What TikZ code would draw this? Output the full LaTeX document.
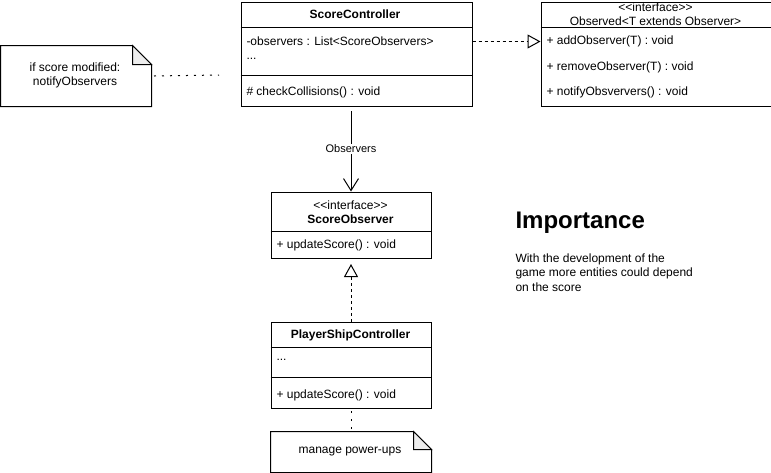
\documentclass[tikz,border=0pt]{standalone}
\usepackage{fontspec}
\setmainfont{Liberation Sans}
\usetikzlibrary{arrows.meta,calc}
\begin{document}
\begin{tikzpicture}[x=1pt,y=-1pt,line width=1pt,
  box/.style={draw,fill=white,inner sep=0pt,anchor=north west},
  ghost/.style={inner sep=0pt,anchor=north west},
  txt/.style={inner sep=0pt,font=\fontsize{12}{14}\selectfont},
  ltxt/.style={txt,anchor=west},
  btxt/.style={inner sep=0pt,font=\fontsize{12}{14}\selectfont\bfseries},
  lbl/.style={inner sep=1pt,fill=white,font=\fontsize{11}{13}\selectfont},
  notefill/.style={draw,fill=white},
  foldfill/.style={draw,fill=black!7},
  dots/.style={dash pattern=on 2pt off 6pt},
  realize/.style={dash pattern=on 3pt off 3pt,-{Triangle[open,length=13pt,width=14pt]}},
  assoc/.style={-{Straight Barb[length=12pt,width=15pt]}},
]
\useasboundingbox (0,0) rectangle (771,472);

% ScoreController
\node[box,minimum width=231pt,minimum height=104pt] (sc) at (240.5,1.5) {};
\draw (240.5,27.5) -- (471.5,27.5);
\draw (240.5,75.5) -- (471.5,75.5);
\node[btxt] (scn) at (355,14.5) {ScoreController};
\node[txt,anchor=base west,align=left] (sca) at (246,59.5) {-observers : List<ScoreObservers>\\...};
\node[ltxt] (scm) at (246,92.5) {\# checkCollisions() : void};

% Observed interface
\node[box,minimum width=230pt,minimum height=104pt] (ob) at (540.5,1.5) {};
\draw (540.5,27.5) -- (770.5,27.5);
\node[txt] (obs) at (655.5,7) {<{}<interface>{}>};
\node[txt] (obn) at (655.5,21) {Observed<T extends Observer>};
\node[ltxt] (ob1) at (546,41.5) {+ addObserver(T) : void};
\node[ltxt] (ob2) at (546,67.5) {+ removeObserver(T) : void};
\node[ltxt] (ob3) at (546,92.5) {+ notifyObsververs() : void};

% note left
\node[ghost,minimum width=150pt,minimum height=60pt] (n1) at (0.5,45.5) {};
\draw[notefill] (n1.north west) -- ($(n1.north east)+(-19,0)$) -- ($(n1.north east)+(0,19)$) -- (n1.south east) -- (n1.south west) -- cycle;
\draw[foldfill] ($(n1.north east)+(-19,0)$) -- ($(n1.north east)+(-19,19)$) -- ($(n1.north east)+(0,19)$) -- cycle;
\node[txt,align=center] (n1t) at (75,75.5) {if score modified:\\notifyObservers};
\coordinate (n1end) at (219,75);
\draw[dots] ($(n1.east)+(2.5,0)$) -- (n1end);

% ScoreObserver
\node[box,minimum width=160pt,minimum height=66pt] (so) at (270.5,191.5) {};
\draw (270.5,231.5) -- (430.5,231.5);
\node[txt] (sos) at (350.5,205) {<{}<interface>{}>};
\node[btxt] (son) at (350.5,219) {ScoreObserver};
\node[ltxt] (som) at (276,245) {+ updateScore() : void};

% PlayerShipController
\node[box,minimum width=160pt,minimum height=86pt] (ps) at (270.5,321.5) {};
\draw (270.5,347.5) -- (430.5,347.5);
\draw (270.5,377.5) -- (430.5,377.5);
\node[btxt] (psn) at (350.5,335) {PlayerShipController};
\node[ltxt] (psd) at (276,360) {...};
\node[ltxt] (psm) at (276,395) {+ updateScore() : void};

% note bottom
\node[ghost,minimum width=160pt,minimum height=40pt] (n2) at (270.5,431.5) {};
\draw[notefill] (n2.north west) -- ($(n2.north east)+(-18,0)$) -- ($(n2.north east)+(0,18)$) -- (n2.south east) -- (n2.south west) -- cycle;
\draw[foldfill] ($(n2.north east)+(-18,0)$) -- ($(n2.north east)+(-18,18)$) -- ($(n2.north east)+(0,18)$) -- cycle;
\node[txt] (n2t) at (350,451.5) {manage power-ups};

% Importance text
\node[inner sep=0pt,anchor=west,font=\fontsize{24}{28}\selectfont\bfseries] (imp) at (515,223) {Importance};
\node[inner sep=0pt,anchor=north west,align=left,font=\fontsize{12}{14.5}\selectfont] (impt) at (515,253) {With the development of the\\game more entities could depend\\on the score};

% connectors
\draw[realize] ([yshift=12.5pt]sc.east) -- ([yshift=12.5pt]ob.west);
\draw[assoc,shorten <=4.5pt] ([xshift=-5.5pt]sc.south) -- node[lbl] (obl) {Observers} (so.north);
\draw[realize,shorten >=5.5pt] (ps.north) -- (so.south);
\draw[dots] ([yshift=-2.5pt]ps.south) -- (n2.north);
\end{tikzpicture}
\end{document}
